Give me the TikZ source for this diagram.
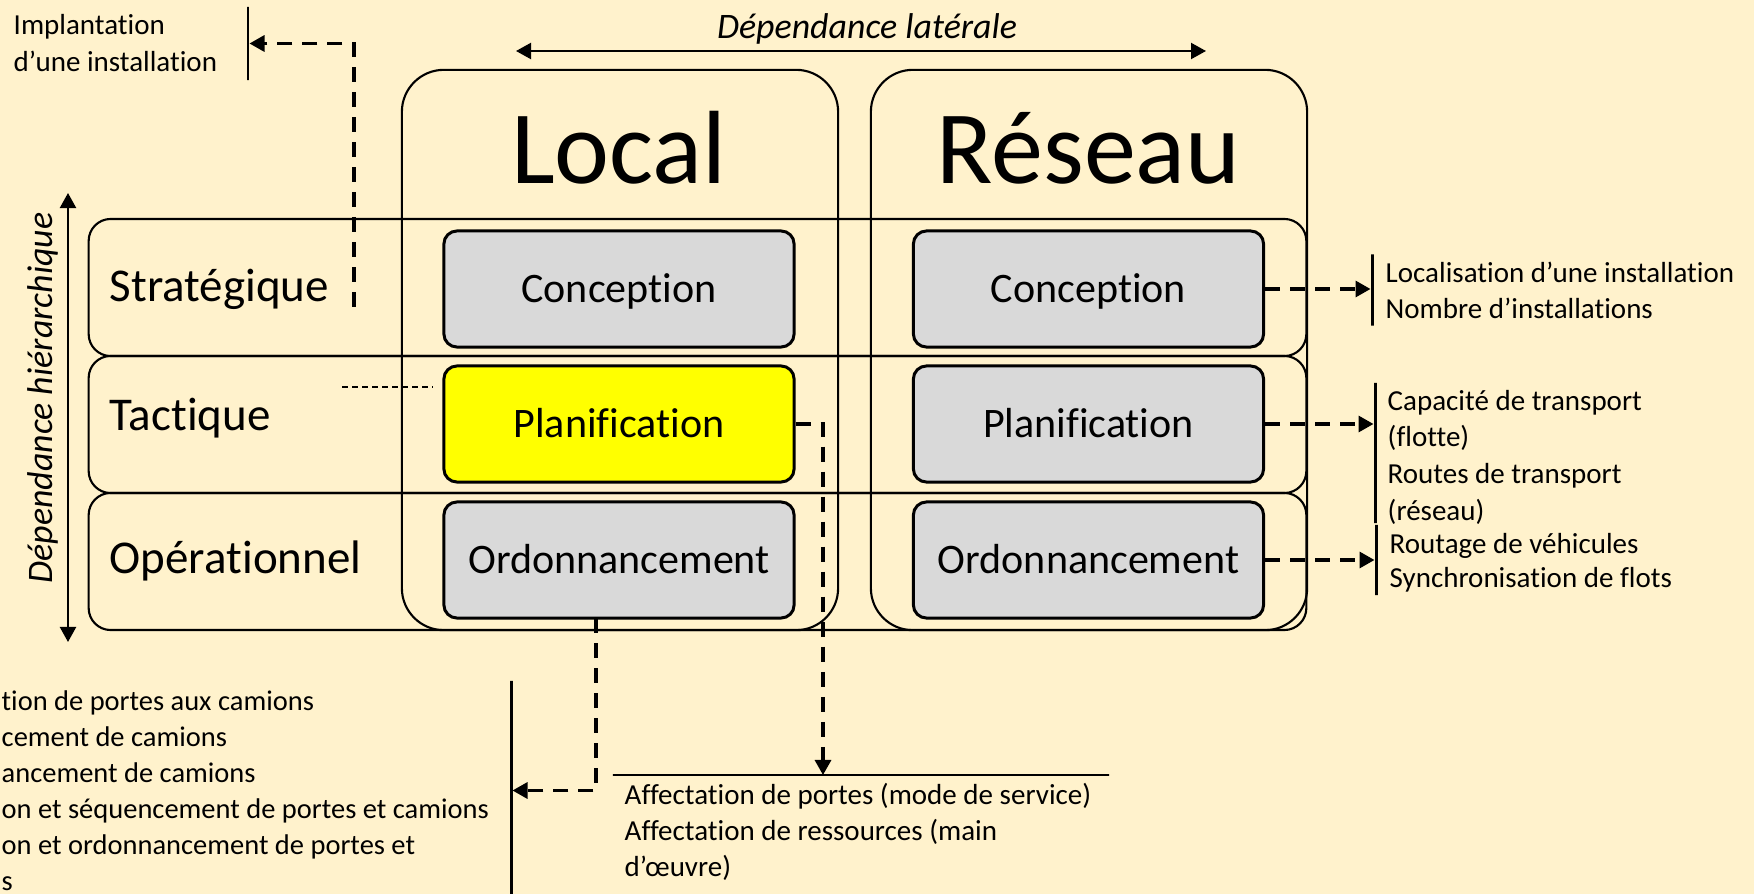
\documentclass[tikz,border=0pt]{standalone}
\usepackage{fontspec}
\setmainfont{Carlito}[Ligatures={NoCommon}]
\usetikzlibrary{arrows.meta}

\definecolor{creme}{HTML}{FFF2CC}
\definecolor{gris}{HTML}{D9D9D9}
\definecolor{jaune}{HTML}{FFFF00}

\tikzstyle{colonne}=[draw,line width=0.6pt,rounded corners=0.42cm,inner sep=0pt,minimum width=4.36cm,minimum height=5.6cm]
\tikzstyle{niveau}=[draw,line width=0.6pt,rounded corners=0.22cm,inner sep=0pt,minimum width=12.17cm,minimum height=1.37cm]
\tikzstyle{tache}=[draw,fill=gris,line width=0.85pt,rounded corners=0.13cm,minimum width=3.5cm,minimum height=1.16cm,text height=0.27cm,text depth=0pt,font=\fontsize{11.95}{14}\selectfont]
\tikzstyle{titre}=[anchor=base,inner sep=0pt,font=\fontsize{29.6}{34}\selectfont]
\tikzstyle{horizon}=[anchor=base west,inner sep=0pt,font=\fontsize{13.37}{16}\selectfont]
\tikzstyle{dependance}=[anchor=base,inner sep=0pt,font=\fontsize{10.2}{12}\selectfont\itshape]
\tikzstyle{liste}=[anchor=base west,inner sep=0pt,font=\fontsize{8.25}{10}\selectfont]
\tikzstyle{crochet}=[draw,line width=0.85pt,inner sep=0pt,minimum width=0pt]
\tikzstyle{lien}=[line width=0.9pt,dash pattern=on 0.15cm off 0.1cm,-{Triangle[length=0.15cm,width=0.16cm]}]
\tikzstyle{fleche}=[line width=0.6pt,{Triangle[length=0.15cm,width=0.16cm]}-{Triangle[length=0.15cm,width=0.16cm]}]

\begin{document}
\begin{tikzpicture}[x=0.01cm,y=-0.01cm]
  \useasboundingbox (0,0) rectangle (1754,894);
  \fill[creme] (0,0) rectangle (1754,894);
  \def\xl{619}
  \def\xr{1088.5}

  % colonnes et niveaux
  \node[colonne] (local) at (620,350) {};
  \node[colonne] (reseau) at (1089,350) {};
  \node[niveau] (strat) at (697.5,287.5) {};
  \node[niveau] (tact) at (697.5,424.5) {};
  \node[niveau] (oper) at (697.5,561.5) {};

  \node[titre] (titre local) at (\xl,184) {Local};
  \node[titre] (titre reseau) at (\xr,184) {Réseau};

  \node[horizon] (lab strat) at (109,301) {Stratégique};
  \node[horizon] (lab tact) at (109,430) {Tactique};
  \node[horizon] (lab oper) at (109,573) {Opérationnel};

  \node[tache] (loc concep) at (\xl,289) {Conception};
  \node[tache,fill=jaune] (loc planif) at (\xl,424) {Planification};
  \node[tache] (loc ordo) at (\xl,560) {Ordonnancement};
  \node[tache] (res concep) at (\xr,289) {Conception};
  \node[tache] (res planif) at (\xr,424) {Planification};
  \node[tache] (res ordo) at (\xr,560) {Ordonnancement};

  % dependances
  \coordinate (lat g) at (516,51);
  \coordinate (lat d) at (1206,51);
  \draw[fleche] (lat g) -- (lat d);
  \node[dependance] (dep lat) at (867,39) {Dépendance latérale};
  \coordinate (hier h) at (68,193);
  \coordinate (hier b) at (68,642);
  \draw[fleche] (hier h) -- (hier b);
  \node[dependance,rotate=90] (dep hier) at (52,398) {Dépendance hiérarchique};

  % decisions
  \node[liste] (impl 1) at (13,35) {Implantation};
  \node[liste] (impl 2) at (13,72) {d’une installation};
  \node[crochet,minimum height=0.73cm] (crochet impl) at (248,43.5) {};

  \node[liste] (concep 1) at (1385,283) {Localisation d’une installation};
  \node[liste] (concep 2) at (1385,319) {Nombre d’installations};
  \node[crochet,minimum height=0.71cm] (crochet concep) at (1372,290) {};

  \node[liste] (planif 1) at (1387,410) {Capacité de transport};
  \node[liste] (planif 2) at (1387,446) {(flotte)};
  \node[liste] (planif 3) at (1387,483) {Routes de transport};
  \node[liste] (planif 4) at (1387,520) {(réseau)};
  \node[crochet,minimum height=1.4cm] (crochet planif) at (1375,453) {};

  \node[liste] (ordo 1) at (1389,553) {Routage de véhicules};
  \node[liste] (ordo 2) at (1389,587) {Synchronisation de flots};
  \node[crochet,minimum height=0.7cm] (crochet ordo) at (1376,560) {};

  \node[liste] (affect 1) at (624,804) {Affectation de portes (mode de service)};
  \node[liste] (affect 2) at (624,840) {Affectation de ressources (main};
  \node[liste] (affect 3) at (624,876) {d’œuvre)};
  \node[crochet,minimum width=4.96cm,minimum height=0pt] (crochet affect) at (861,775) {};

  \node[liste,font=\fontsize{8.1}{10}\selectfont] (camion 1) at (1,710) {tion de portes aux camions};
  \node[liste,font=\fontsize{8.1}{10}\selectfont] (camion 2) at (1,746) {cement de camions};
  \node[liste,font=\fontsize{8.1}{10}\selectfont] (camion 3) at (1,782) {ancement de camions};
  \node[liste,font=\fontsize{8.1}{10}\selectfont] (camion 4) at (1,818) {on et séquencement de portes et camions};
  \node[liste,font=\fontsize{8.1}{10}\selectfont] (camion 5) at (1,854) {on et ordonnancement de portes et};
  \node[liste,font=\fontsize{8.1}{10}\selectfont] (camion 6) at (1,890) {s};
  \node[crochet,minimum height=2.19cm] (crochet camion) at (511,790.5) {};

  % liens
  \coordinate (impl depart) at (354,307);
  \draw[lien] (impl depart) |- (crochet impl);
  \coordinate (tact g) at (342,387);
  \coordinate (tact d) at (433,387);
  \draw[line width=0.35pt,dash pattern=on 0.06cm off 0.04cm] (tact g) -- (tact d);
  \coordinate (fleche affect) at (823,775);
  \draw[lien] (loc planif.east) -| (fleche affect);
  \coordinate (ordo depart) at (596,618);
  \draw[lien] (ordo depart) |- (crochet camion);
  \draw[lien] (res concep.east) -- (res concep.east -| crochet concep.west);
  \draw[lien] (res planif.east) -- (res planif.east -| crochet planif.west);
  \draw[lien] (res ordo.east) -- (res ordo.east -| crochet ordo.west);
\end{tikzpicture}
\end{document}
